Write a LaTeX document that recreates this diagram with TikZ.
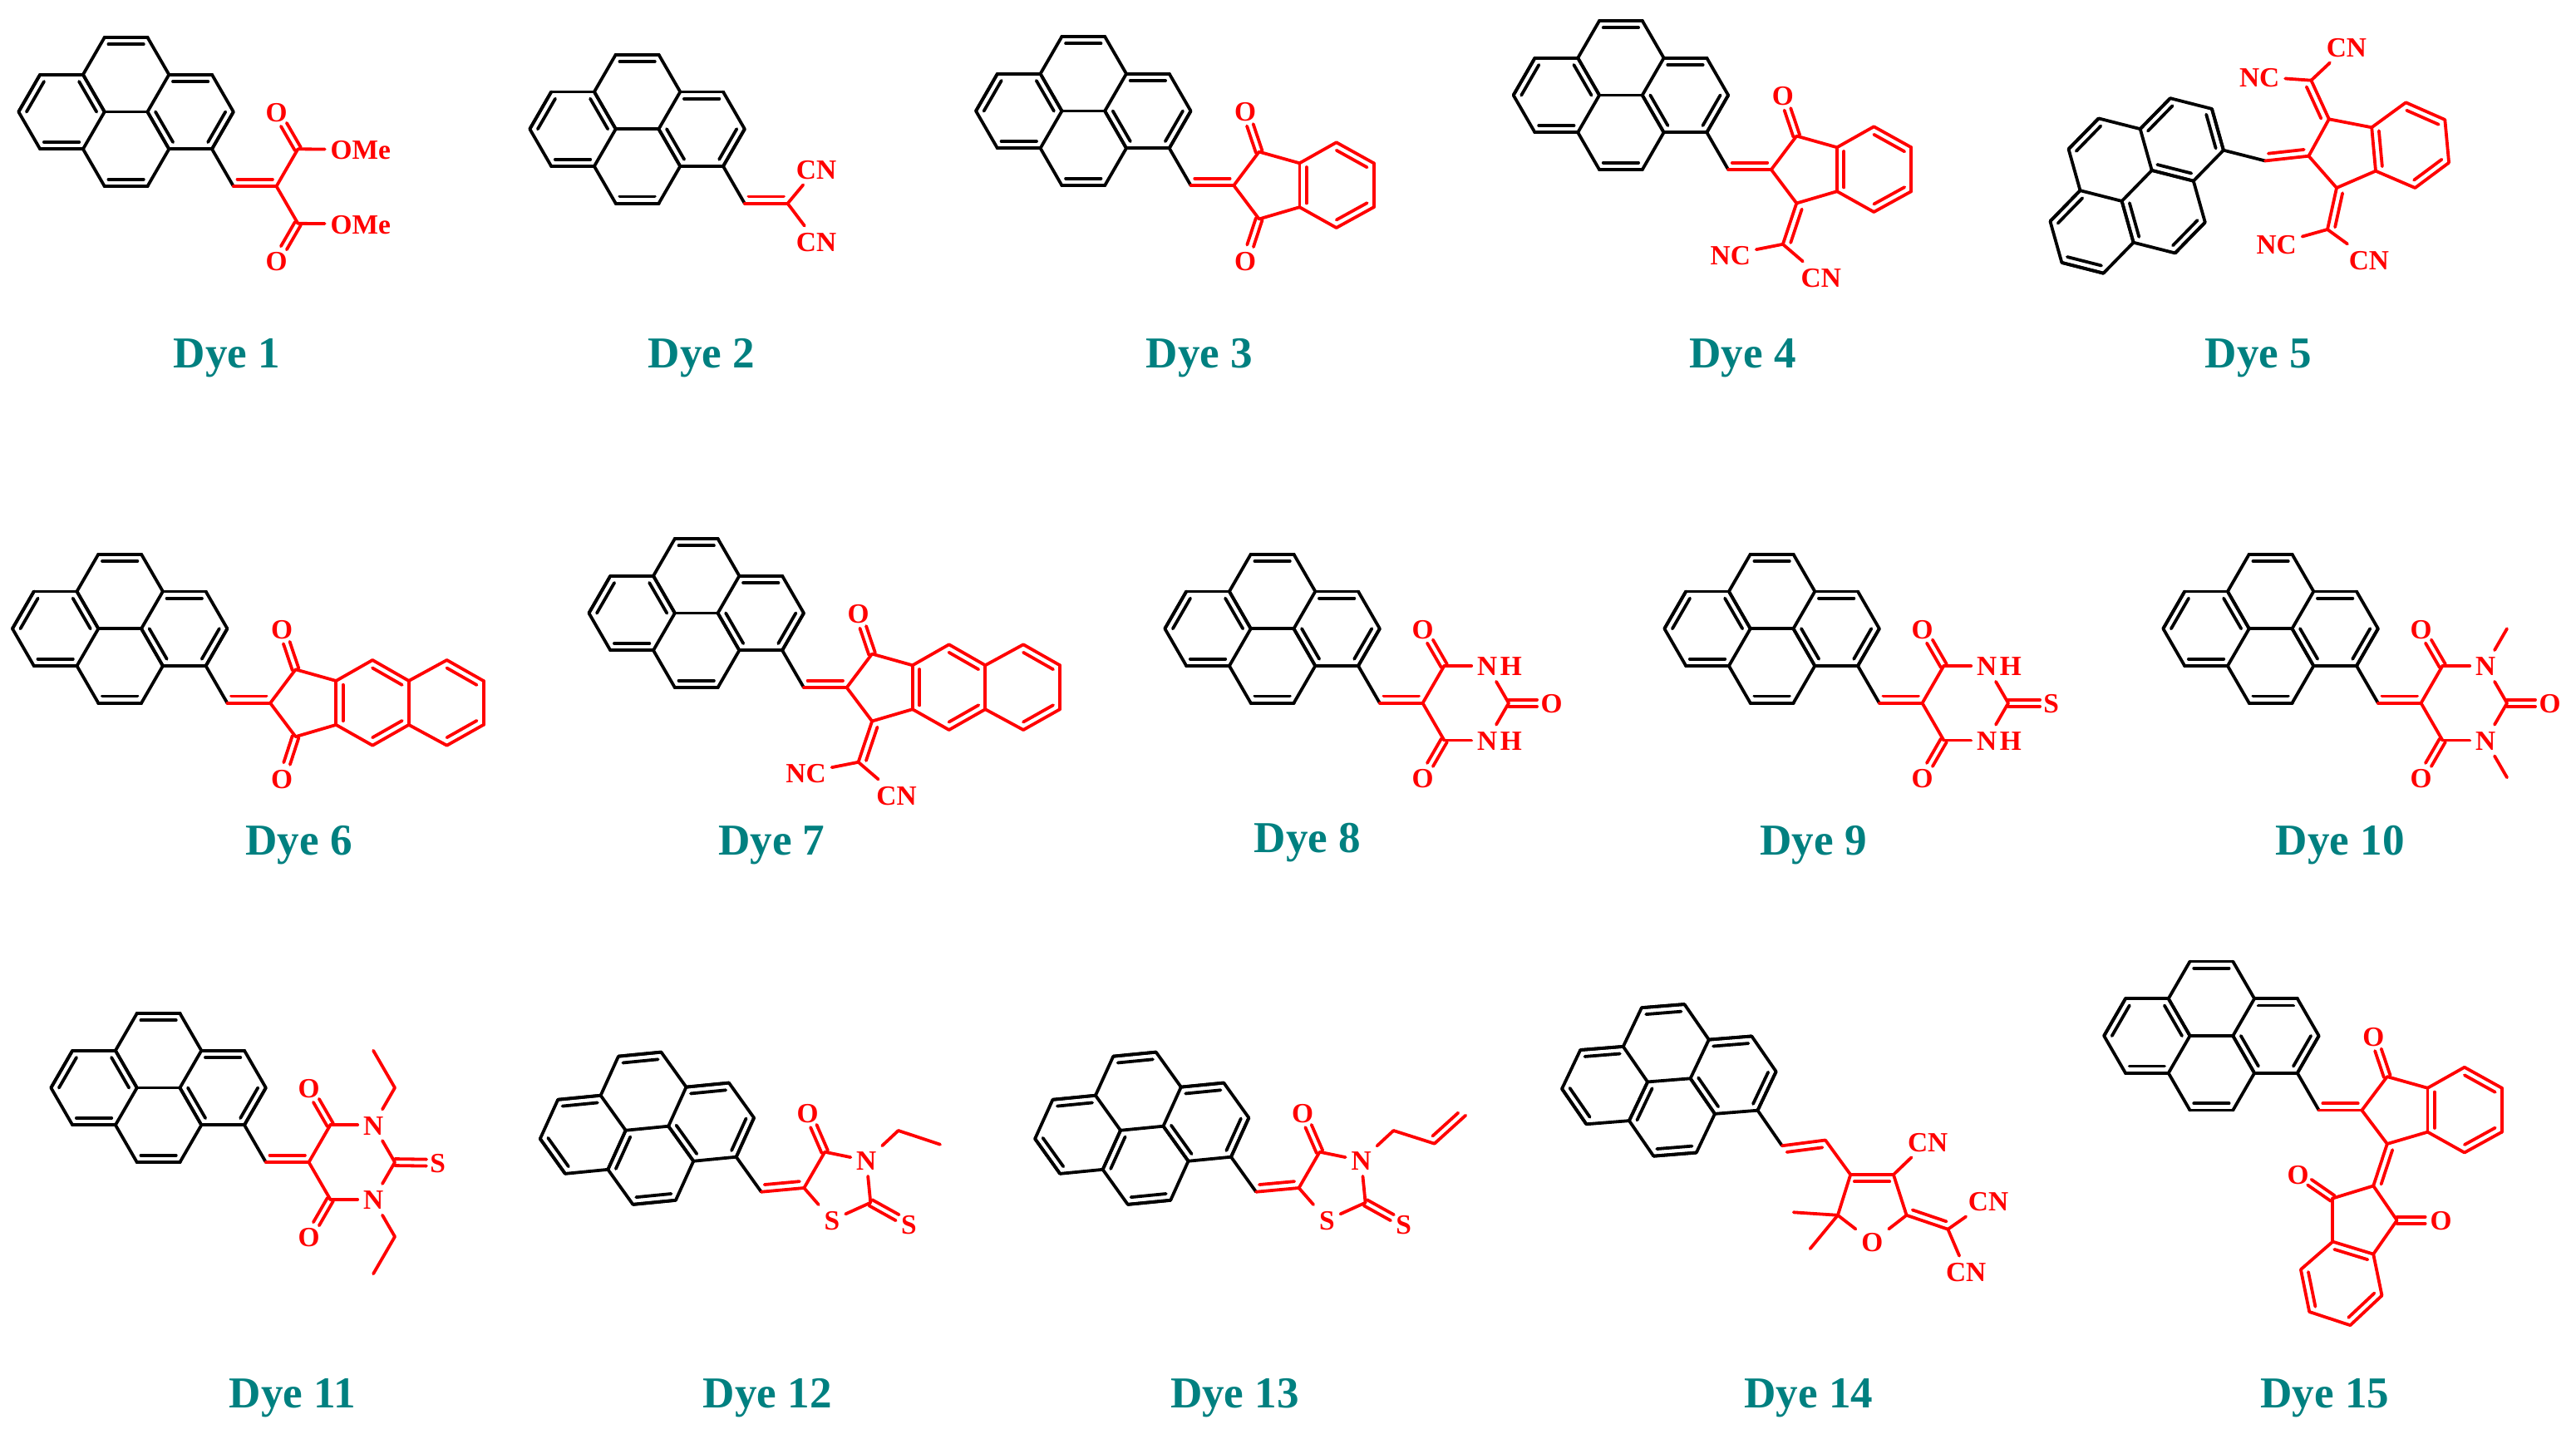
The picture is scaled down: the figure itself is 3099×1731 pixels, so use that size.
\documentclass[tikz,border=0pt]{standalone}
\usepackage{fontspec}
\setmainfont{Liberation Serif}
\usepackage[dvipsnames]{xcolor}
\usetikzlibrary{positioning,calc}
\definecolor{dyeteal}{HTML}{008080}

% helpers for lists of atoms and bonds
\newcommand{\atoms}[1]{\foreach \nm/\xx/\yy in {#1}{\coordinate (\nm) at (\xx,\yy);}}
\newcommand{\singles}[1]{\foreach \fr/\tg in {#1}{\draw (\fr) -- (\tg);}}
\newcommand{\inbond}[2]{\draw (#1) -- (#2) ($(#1)!.09!(#2)!.083cm!90:(#2)$) -- ($(#2)!.09!(#1)!.083cm!-90:(#1)$);}
\newcommand{\inners}[1]{\foreach \fr/\tg in {#1}{\inbond{\fr}{\tg}}}
\newcommand{\twinbond}[3][.34cm]{\draw ($(#2)!.04cm!90:(#3)$) -- ($(#2)!#1!(#3)!.04cm!90:(#3)$) ($(#2)!.04cm!-90:(#3)$) -- ($(#2)!#1!(#3)!.04cm!-90:(#3)$);}

% left ring of the pyrene has two bond patterns
\newcommand{\leftA}{b/a,d/c,f/e}
\newcommand{\leftB}{c/b,a/f,d/e}
\newcommand{\pyrene}[2]{%
  \begin{scope}[rotate=#1]
    \atoms{n/0/0,k/-51.7/0,m/25.85/-44.77,l/0/-89.54,i/-51.7/-89.54,j/-77.55/-44.77,
      d/-129.25/-44.77,c/-155.1/-89.54,e/-155.1/0,g/-129.25/-134.3,h/-77.55/-134.3,
      b/-206.8/-89.54,a/-232.65/-44.77,f/-206.8/0,p/-129.25/44.77,o/-77.55/44.77,v/25.85/44.77}
    \singles{a/b,b/c,c/d,d/e,e/f,f/a,c/g,g/h,h/i,i/j,j/d,e/p,p/o,o/k,k/j,i/l,l/m,m/n,n/k,n/v}
    \inners{h/g,l/i,j/k,n/m,p/o}
    \foreach \fr/\tg in #2 {\inbond{\fr}{\tg}}
  \end{scope}}

% acceptor pieces, all measured from atom n
\newcommand{\malonyl}{%
  \atoms{w/77.55/44.77,ca/103.4/0,cb/103.4/89.54}
  \node[atom] (oa) at (77.55,-44.77) {O};
  \node[atom] (ob) at (77.55,134.3) {O};
  \inners{v/w}
  \singles{w/ca,w/cb}
  \twinbond{ca}{oa} \twinbond{cb}{ob}}
\newcommand{\barbring}{%
  \malonyl
  \coordinate (cc) at (181,44.77);
  \node[atom] (na) at (155.1,0) {N};
  \node[atom] (nb) at (155.1,89.54) {N};
  \singles{ca/na,na/cc,cc/nb,nb/cb}}
\newcommand{\fivebonds}{\inners{v/w,cc/cd} \singles{w/ca,w/cb,ca/cc,cb/cd}}
\newcommand{\ketoring}{%
  \atoms{w/77.55/44.77,ca/108/4.3,cb/108/85.2,cc/156.7/18,cd/156.7/70.9}
  \node[atom] (oa) at (91.5,-44.6) {O};
  \fivebonds
  \twinbond{ca}{oa}}
\newcommand{\benzobonds}{\singles{cc/ce,cf/cg,ch/cd} \inners{cf/ce,ch/cg}}
\newcommand{\benzoring}{\atoms{ce/201/-7,cf/246/18,cg/246/70.9,ch/201/95.7} \benzobonds}
\newcommand{\naphthoring}{%
  \atoms{ce/200.6/-7,cf/244.2/18,cg/244.2/70.9,ch/200.6/95.7,ci/290/-7,cj/334/18,ck/334/70.9,cl/290/95.7}
  \singles{cc/ce,ch/cd,cf/cg,cf/ci,cj/ck,cl/cg}
  \inners{cf/ce,ch/cg,cj/ci,cl/ck}}
\newcommand{\dicyano}{%
  \coordinate (dc) at (91.5,134.5);
  \node[atom] (nc) at (28.5,147) {NC};
  \node[atom] (cn) at (137.5,174) {CN};
  \inners{cb/dc}
  \singles{dc/nc,dc/cn}}
\newcommand{\rhodanine}{%
  \atoms{w/81.6/37.3,ca/106.6/-6,cb/161.6/55}
  \node[atom] (oa) at (86,-53.4) {O};
  \node[atom] (na) at (156.6,4.3) {N};
  \node[atom] (sa) at (115.3,76) {S};
  \node[atom] (sb) at (207.6,80.6) {S};
  \inners{v/w}
  \singles{w/ca,ca/na,na/cb,cb/sa,sa/w}
  \twinbond{ca}{oa} \twinbond[.37cm]{cb}{sb}}

\begin{document}
\begin{tikzpicture}[
    x=.01cm, y=-.01cm,
    line width=.038cm, line cap=round, line join=round,
    atom/.style={font=\bfseries\fontsize{9.5}{10}\selectfont, inner sep=.05cm, text height=6.8pt, text depth=0pt},
    dyelabel/.style={font=\bfseries\fontsize{15.1}{16}\selectfont, text=dyeteal, inner sep=0pt, text height=10pt, text depth=0pt}
]
  \useasboundingbox (0,0) rectangle (3099,1731);

  % labels
  \foreach \num/\xx/\yy in {1/273/425,2/844/425,3/1443/425,4/2096.7/424.5,5/2716.9/424.5,
      6/359.7/1010.8,7/928.3/1010.8,8/1573/1007.5,9/2181.5/1011,10/2815.3/1010.8,
      11/351.7/1675.8,12/923.2/1675.8,13/1485.5/1675.8,14/2176/1675.8,15/2796.7/1675.8}
    {\node[dyelabel] (lab\num) at (\xx,\yy) {Dye \num};}

  % first row
  \begin{scope}[shift={(255,179.3)},name prefix=d1-]
    \pyrene{0}{\leftA}
    \begin{scope}[red]
      \malonyl
      \node[atom,anchor=west] (ma) at (135.7,.5) {OMe};
      \node[atom,anchor=west] (mb) at (135.7,90) {OMe};
      \singles{ca/ma,cb/mb}
    \end{scope}
  \end{scope}

  \begin{scope}[shift={(870,200)},name prefix=d2-]
    \pyrene{0}{\leftA}
    \begin{scope}[red]
      \coordinate (w) at (77.55,44.77);
      \node[atom] (cna) at (112,3.5) {CN};
      \node[atom] (cnb) at (112,90.5) {CN};
      \inners{v/w}
      \singles{w/cna,w/cnb}
    \end{scope}
  \end{scope}

  \begin{scope}[shift={(1406.7,178.3)},name prefix=d3-]
    \pyrene{0}{\leftA}
    \begin{scope}[red]
      \ketoring \benzoring
      \node[atom] (ob) at (91.5,135.5) {O};
      \twinbond{cb}{ob}
    \end{scope}
  \end{scope}

  \begin{scope}[shift={(2053.3,159.3)},name prefix=d4-]
    \pyrene{0}{\leftA}
    \begin{scope}[red]
      \ketoring \benzoring \dicyano
    \end{scope}
  \end{scope}

  \begin{scope}[shift={(2674.9,180.7)},name prefix=d5-]
    \pyrene{45.7}{\leftB}
    \begin{scope}[red]
      \atoms{w/102.5/7,ca/126.9/-37.4,cb/136.1/45.3,cc/178.3/-27.4,cd/183.1/25,
        ce/219.4/-57.4,cf/266.4/-36.7,cg/271.2/15,ch/230.5/45.3,da/105.5/-84,db/125.1/95.3}
      \node[atom] (nca) at (43.3,-88.4) {NC};
      \node[atom] (cna) at (148,-124) {CN};
      \node[atom] (ncb) at (63.7,112.6) {NC};
      \node[atom] (cnb) at (175,131.6) {CN};
      \fivebonds \benzobonds
      \inners{ca/da,cb/db}
      \singles{da/nca,da/cna,db/ncb,db/cnb}
    \end{scope}
  \end{scope}

  % second row
  \begin{scope}[shift={(247.6,801)},name prefix=d6-]
    \pyrene{0}{\leftA}
    \begin{scope}[red]
      \ketoring \naphthoring
      \node[atom] (ob) at (91.5,136) {O};
      \twinbond{cb}{ob}
    \end{scope}
  \end{scope}

  \begin{scope}[shift={(941.1,782.3)},name prefix=d7-]
    \pyrene{0}{\leftA}
    \begin{scope}[red]
      \ketoring \naphthoring \dicyano
    \end{scope}
  \end{scope}

  \begin{scope}[shift={(1634,801)},name prefix=d8-]
    \pyrene{0}{\leftA}
    \begin{scope}[red]
      \barbring
      \node[atom,right=-.1cm of na] (ha) {H};
      \node[atom,right=-.1cm of nb] (hb) {H};
      \node[atom] (oc) at (232.65,44.77) {O};
      \twinbond{cc}{oc}
    \end{scope}
  \end{scope}

  \begin{scope}[shift={(2235,801)},name prefix=d9-]
    \pyrene{0}{\leftA}
    \begin{scope}[red]
      \barbring
      \node[atom,right=-.1cm of na] (ha) {H};
      \node[atom,right=-.1cm of nb] (hb) {H};
      \node[atom] (sc) at (232.65,44.77) {S};
      \twinbond[.38cm]{cc}{sc}
    \end{scope}
  \end{scope}

  \begin{scope}[shift={(2835,801)},name prefix=d10-]
    \pyrene{0}{\leftA}
    \begin{scope}[red]
      \barbring
      \atoms{ma/181/-44.77,mb/181/134.3}
      \node[atom] (oc) at (232.65,44.77) {O};
      \twinbond{cc}{oc}
      \singles{na/ma,nb/mb}
    \end{scope}
  \end{scope}

  % third row
  \begin{scope}[shift={(294,1353.3)},name prefix=d11-]
    \pyrene{0}{\leftA}
    \begin{scope}[red]
      \barbring
      \atoms{ma/181/-44.77,ea/155.1/-89.54,mb/181/134.3,eb/155.1/179}
      \node[atom] (sc) at (232.65,45.5) {S};
      \twinbond[.38cm]{cc}{sc}
      \singles{na/ma,ma/ea,nb/mb,mb/eb}
    \end{scope}
  \end{scope}

  \begin{scope}[shift={(885.7,1391.7)},name prefix=d12-]
    \pyrene{5.6}{\leftB}
    \begin{scope}[red]
      \rhodanine
      \atoms{et/195/-31.7,ez/245.3/-15}
      \singles{na/et,et/ez}
    \end{scope}
  \end{scope}

  \begin{scope}[shift={(1481,1391.7)},name prefix=d13-]
    \pyrene{5.6}{\leftB}
    \begin{scope}[red]
      \rhodanine
      \atoms{et/195.4/-31.7,al/244.7/-16,az/282.2/-50}
      \singles{na/et,et/al}
      \inners{al/az}
    \end{scope}
  \end{scope}

  \begin{scope}[shift={(2114.5,1335.7)},name prefix=d14-]
    \pyrene{4.6}{\leftB}
    \begin{scope}[red]
      \atoms{w/81.5/35.8,ca/111.7/77.3,cb/163.4/77.3,cc/96.4/126.1,cd/179.1/126.1,
        dc/228.9/143,ma/43.2/122.6,mb/63.1/166.5}
      \node[atom] (oa) at (137.8,158.1) {O};
      \node[atom] (cna) at (204.7,37.6) {CN};
      \node[atom] (cnb) at (277.5,108.9) {CN};
      \node[atom] (cnc) at (250.7,193.9) {CN};
      \inners{w/v,cb/ca,cd/dc}
      \singles{w/ca,ca/cc,cb/cd,cc/oa,cd/oa,cc/ma,cc/mb,cb/cna,dc/cnb,dc/cnc}
    \end{scope}
  \end{scope}

  \begin{scope}[shift={(2763.8,1290.8)},name prefix=d15-]
    \pyrene{0}{\leftA}
    \begin{scope}[red]
      \ketoring \benzoring
      \atoms{ea/91.4/135.7,eb/42.5/150.7,ec/119.8/177.1,ed/42.5/202.8,ee/91.4/217.8,
        ef/4.1/236.3,eg/14.4/287.2,eh/63.6/303.4,ei/101.7/267.6}
      \node[atom] (ob) at (.7,121.7) {O};
      \node[atom] (oc) at (172.7,177.1) {O};
      \inners{cb/ea,ee/ed,ef/eg,eh/ei}
      \singles{ea/eb,ea/ec,eb/ed,ec/ee,ed/ef,eg/eh,ei/ee}
      \twinbond{eb}{ob} \twinbond{ec}{oc}
    \end{scope}
  \end{scope}
\end{tikzpicture}
\end{document}
